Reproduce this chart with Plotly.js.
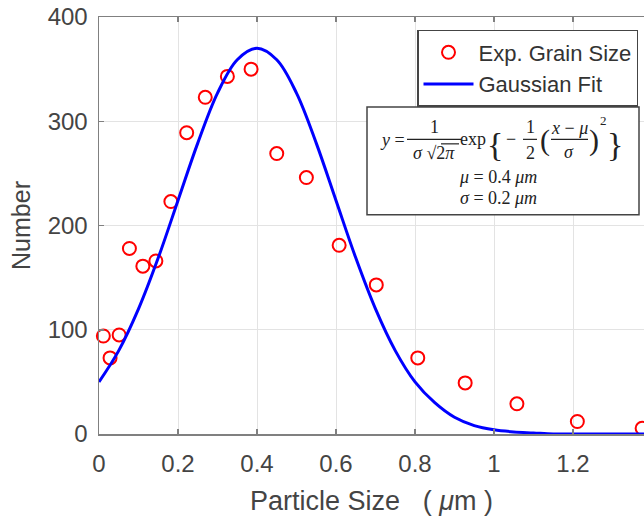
<!DOCTYPE html>
<html>
<head>
<meta charset="utf-8">
<script src="https://cdn.plot.ly/plotly-3.0.1.min.js"></script>
<style>html,body{margin:0;padding:0;background:#fff;}#chart{width:644px;height:516px;}</style>
</head>
<body>
<div id="chart"></div>
<script>
var expX = [0.011, 0.028, 0.051, 0.077, 0.111, 0.144, 0.182, 0.222, 0.269, 0.325, 0.385, 0.450, 0.525, 0.608, 0.702, 0.807, 0.927, 1.058, 1.211, 1.375];
var expY = [94, 73, 95, 178, 161, 166, 223, 289, 323, 343, 350, 269, 246, 181, 143, 73, 49, 29, 12, 5.5];

// Gaussian fit curve
var fitX = [0, 0.05, 0.1, 0.15, 0.2, 0.25, 0.3, 0.35, 0.4, 0.45, 0.5, 0.55, 0.6, 0.65, 0.7, 0.75, 0.8, 0.85, 0.9, 0.95, 1.0, 1.05, 1.1, 1.15, 1.2, 1.25, 1.3, 1.35, 1.4];
var fitY = [50, 80, 120, 169, 224, 279, 327, 359, 370, 359, 327, 279, 224, 169, 120, 80, 50, 30, 16, 8, 4, 2, 1, 0, 0, 0, 0, 0, 0];

var xTicks = [0, 0.2, 0.4, 0.6, 0.8, 1, 1.2];
var xTickText = ['0', '0.2', '0.4', '0.6', '0.8', '1', '1.2'];
var yTicks = [0, 100, 200, 300, 400];

var seriesNames = ['Exp. Grain Size', 'Gaussian Fit'];

// plot area in pixels
var L = 99, R = 644, T = 17, B = 434.5;
function px(X) { return (X - L) / (R - L); }
function py(Y) { return (B - Y) / (B - T); }

var textColor = '#444';
var sans = 'Liberation Sans, Arial, sans-serif';
var serif = 'Liberation Serif, Times New Roman, serif';

var traces = [
  {
    x: expX, y: expY, type: 'scatter', mode: 'markers', name: seriesNames[0],
    marker: { symbol: 'circle-open', size: 13, color: '#ff0000', line: { color: '#ff0000', width: 2 } },
    cliponaxis: false
  },
  {
    x: fitX, y: fitY, type: 'scatter', mode: 'lines', name: seriesNames[1],
    line: { color: '#0000ff', width: 3, shape: 'spline' }
  }
];

function ann(text, X, Y, size) {
  return {
    text: text, xref: 'paper', yref: 'paper', x: px(X), y: py(Y),
    xanchor: 'center', yanchor: 'middle', showarrow: false, borderpad: 0,
    font: { family: serif, size: size || 18, color: '#222' }
  };
}
function hline(x0, x1, y) {
  return { type: 'line', xref: 'paper', yref: 'paper', x0: px(x0), x1: px(x1), y0: py(y), y1: py(y),
    line: { color: '#222', width: 1.2 } };
}

var annotations = [
  ann('<i>y</i> =', 392, 140),
  ann('1', 434, 127),
  ann('<i>σ</i> √2<i>π</i>', 434, 153),
  ann('exp', 473, 139),
  ann('{', 495, 145, 34),
  ann('−', 511, 139),
  ann('1', 530, 127),
  ann('2', 530, 153),
  ann('(', 545, 140, 30),
  ann('<i>x</i> − <i>μ</i>', 569, 128),
  ann('<i>σ</i>', 569, 152),
  ann(')', 594, 140, 30),
  ann('2', 603, 121, 13),
  ann('}', 615, 145, 34),
  ann('<i>μ</i> = 0.4 <i>μm</i>', 498, 177),
  ann('<i>σ</i> = 0.2 <i>μm</i>', 498, 198)
];

var shapes = [
  { type: 'rect', xref: 'paper', yref: 'paper', x0: px(367), x1: px(639), y0: py(107), y1: py(215),
    fillcolor: '#ffffff', line: { color: '#444', width: 1.5 }, layer: 'above' },
  hline(407, 461, 139.5),
  hline(441, 459, 144),
  hline(523, 537, 139.5),
  hline(551, 588, 139.5)
];

var layout = {
  width: 644, height: 516,
  margin: { l: L, r: 644 - R, t: T, b: 516 - B },
  paper_bgcolor: '#ffffff', plot_bgcolor: '#ffffff',
  showlegend: true,
  legend: {
    x: px(638), y: py(30), xanchor: 'right', yanchor: 'top',
    bgcolor: '#ffffff', bordercolor: '#444', borderwidth: 1.5,
    font: { family: sans, size: 22, color: '#333' },
    itemwidth: 50, tracegroupgap: 0
  },
  xaxis: {
    range: [0, (R - L) / 395], tickvals: xTicks, ticktext: xTickText,
    showgrid: true, gridcolor: '#e3e3e3', gridwidth: 1,
    zeroline: false, showline: true, linecolor: '#808080', linewidth: 1.5, mirror: 'ticks',
    ticks: 'inside', ticklen: 5, tickcolor: '#808080', tickwidth: 1.5,
    ticklabelstandoff: 8,
    tickfont: { family: sans, size: 24, color: textColor },
    automargin: true,
    title: { text: 'Particle Size\u00a0\u00a0\u00a0(\u00a0<i>μ</i>m\u00a0)', standoff: 15, font: { family: sans, size: 27, color: textColor } }
  },
  yaxis: {
    range: [0, 400], tickvals: yTicks,
    showgrid: true, gridcolor: '#e3e3e3', gridwidth: 1,
    zeroline: false, showline: true, linecolor: '#808080', linewidth: 1.5,
    ticks: 'inside', ticklen: 5, tickcolor: '#808080', tickwidth: 1.5,
    ticklabelstandoff: 5,
    tickfont: { family: sans, size: 24, color: textColor },
    automargin: true,
    title: { text: 'Number', standoff: 10, font: { family: sans, size: 25, color: textColor } }
  },
  annotations: annotations,
  shapes: shapes
};

Plotly.newPlot('chart', traces, layout, { displayModeBar: false, staticPlot: true });
</script>
</body>
</html>
